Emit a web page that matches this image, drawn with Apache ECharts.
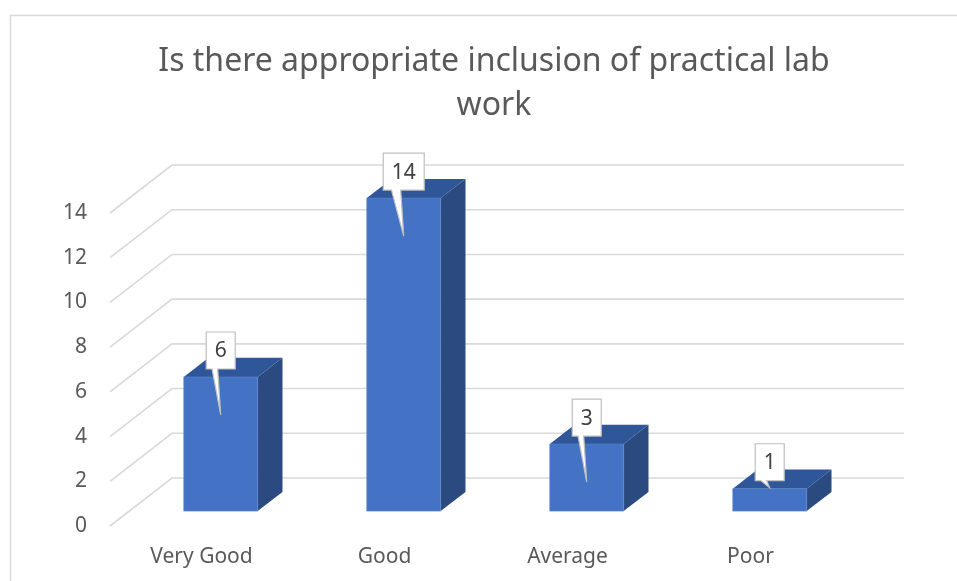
<!DOCTYPE html>
<html>
<head>
<meta charset="utf-8">
<script src="https://cdn.jsdelivr.net/npm/echarts@6/dist/echarts.min.js"></script>
<style>
  html, body { margin: 0; padding: 0; background: #ffffff; }
  #chart { width: 957px; height: 581px; }
</style>
</head>
<body>
<div id="chart"></div>
<script>
const categories = ['Very Good', 'Good', 'Average', 'Poor'];
const responses = [6, 14, 3, 1];
const yTicks = [0, 2, 4, 6, 8, 10, 12, 14];

// 3d look: depth of the back wall, and where the bars stand inside it
const DX = 62, DY = -48;
const BAR_POS = 0.31, BAR_DEPTH = 0.4, BAR_WIDTH = 0.404;
const FONT = 'Noto Sans';

function renderGrid(params, api) {
  const cs = params.coordSys;
  const y = api.coord([0, api.value(1)])[1];
  const x0 = cs.x, x1 = cs.x + cs.width;
  return {
    type: 'polyline',
    shape: { points: [[x0, y], [x0 + DX, y + DY], [x1 + DX, y + DY]] },
    style: { stroke: '#d9d9d9', lineWidth: 1.6, fill: null },
    silent: true
  };
}

function renderBar(params, api) {
  const i = api.value(0), v = api.value(1);
  const top = api.coord([i, v]);
  const base = api.coord([i, 0]);
  const w = api.size([1, 0])[0] * BAR_WIDTH;
  const cx = top[0] + DX * BAR_POS;
  const L = cx - w / 2, R = cx + w / 2;
  const T = top[1] + DY * BAR_POS, B = base[1] + DY * BAR_POS;
  const bx = DX * BAR_DEPTH, by = DY * BAR_DEPTH;

  // callout
  const txt = String(v);
  const bw = txt.length * 12 + 17, bh = 37;
  const boxB = T - 8, boxT = boxB - bh;
  const bl = cx - bw / 2, br = cx + bw / 2;
  const tipY = (B - T) > 40 ? T + 38 : T - 1;

  return {
    type: 'group',
    children: [
      {
        type: 'polygon',
        shape: { points: [[L, T], [R, T], [R + bx, T + by], [L + bx, T + by]] },
        style: { fill: '#30569a' }
      },
      {
        type: 'polygon',
        shape: { points: [[R, T], [R + bx, T + by], [R + bx, B + by], [R, B]] },
        style: { fill: '#2b4a80' }
      },
      {
        type: 'rect',
        shape: { x: L, y: T, width: w, height: B - T },
        style: { fill: '#4472c4', stroke: '#5a84cc', lineWidth: 0.6 }
      },
      {
        type: 'polygon',
        shape: {
          points: [[bl, boxT], [br, boxT], [br, boxB], [cx - 3, boxB], [cx, tipY],
                   [bl + bw * 0.2, boxB], [bl, boxB]]
        },
        style: { fill: '#ffffff', stroke: '#bfbfbf', lineWidth: 1.2 }
      },
      {
        type: 'text',
        style: {
          x: cx, y: boxT + bh / 2 + 1, text: txt,
          align: 'center', verticalAlign: 'middle',
          fill: '#404040', fontSize: 21, fontFamily: FONT
        }
      }
    ]
  };
}

const chart = echarts.init(document.getElementById('chart'));
chart.setOption({
  animation: false,
  backgroundColor: '#ffffff',
  title: {
    text: 'Is there appropriate inclusion of practical lab\nwork',
    left: 489,
    textAlign: 'center',
    top: 35,
    textStyle: {
      fontFamily: FONT, fontSize: 32, fontWeight: 'normal',
      color: '#595959', lineHeight: 44
    }
  },
  graphic: [{
    type: 'rect',
    shape: { x: 10.5, y: 15.5, width: 980, height: 600 },
    style: { fill: null, stroke: '#d9d9d9', lineWidth: 1.5 },
    silent: true
  }],
  grid: { left: 110, right: 115, top: 213, bottom: 55 },
  xAxis: {
    type: 'category',
    data: categories,
    axisLine: { show: false },
    axisTick: { show: false },
    axisLabel: { fontFamily: FONT, fontSize: 21, color: '#595959', margin: 21 }
  },
  yAxis: {
    type: 'value',
    min: 0, max: 14, interval: 2,
    axisLine: { show: false },
    axisTick: { show: false },
    splitLine: { show: false },
    axisLabel: { fontFamily: FONT, fontSize: 21, color: '#595959', margin: 23 }
  },
  series: [
    {
      type: 'custom',
      renderItem: renderGrid,
      data: yTicks.map(v => [0, v]),
      encode: { x: 0, y: 1 },
      clip: false,
      silent: true,
      z: 1
    },
    {
      type: 'custom',
      renderItem: renderBar,
      data: responses.map((v, i) => [i, v]),
      encode: { x: 0, y: 1 },
      clip: false,
      z: 2
    }
  ]
});
</script>
</body>
</html>
